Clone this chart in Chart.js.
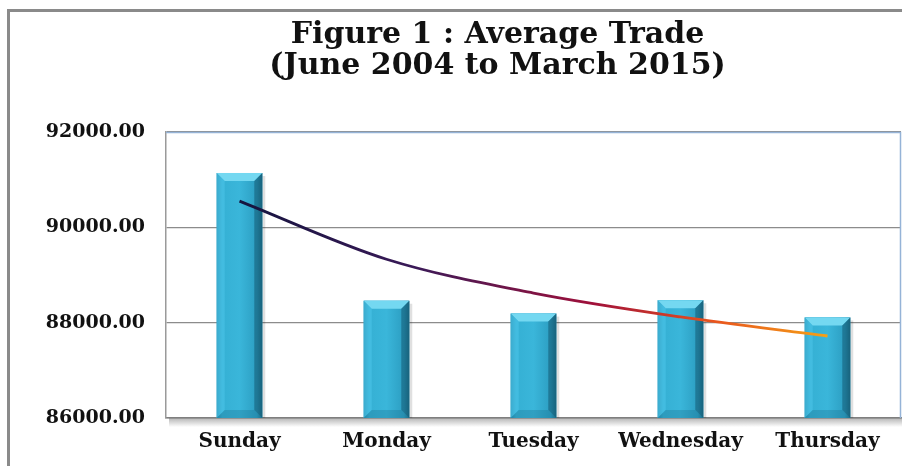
<!DOCTYPE html>
<html>
<head>
<meta charset="utf-8">
<script src="https://cdn.jsdelivr.net/npm/chart.js@4/dist/chart.umd.min.js"></script>
<style>
  html,body{margin:0;padding:0;background:#fff;}
  #wrap{width:902px;height:466px;position:relative;}
</style>
</head>
<body>
<div id="wrap"><canvas id="tradeChart" width="902" height="466"></canvas></div>
<script>
// ----- ДАНІ -----
const days = ['Sunday','Monday','Tuesday','Wednesday','Thursday'];
const avgTrade = [91140, 88460, 88190, 88470, 88110];
// log trend line (at each day)
const trendValues = [90550, 89330, 88620, 88120, 87720];
const titleLines = ['Figure 1 : Average Trade','(June 2004 to March 2015)'];
const yMin = 86000, yMax = 92000, yStep = 2000;

// ----- ПЛАГІНИ -----

// grey frame of the figure + plot area border and shadow
const framePlugin = {
  id:'frame',
  afterLayout(chart){
    // title sits a bit right of the canvas centre
    if(chart.titleBlock) chart.titleBlock.left = 94;
  },
  beforeDraw(chart){
    const c = chart.ctx, a = chart.chartArea;
    c.save();
    c.fillStyle='#fff';
    c.fillRect(0,0,chart.width,chart.height);
    c.strokeStyle='#8a8a8a';
    c.lineWidth=3;
    c.beginPath();
    c.moveTo(8.5,466); c.lineTo(8.5,10.5); c.lineTo(902,10.5);
    c.stroke();
    // shadow under the plot area
    const g = c.createLinearGradient(0,a.bottom,0,a.bottom+9);
    g.addColorStop(0,'rgba(120,120,120,0.55)');
    g.addColorStop(1,'rgba(120,120,120,0)');
    c.fillStyle=g;
    c.fillRect(a.left+3,a.bottom,a.right-a.left,9);
    c.restore();
  },
  afterDraw(chart){
    const c = chart.ctx, a = chart.chartArea;
    c.save();
    c.lineWidth=1.5;
    c.strokeStyle='#95b3d7';
    c.beginPath();
    c.moveTo(a.left,a.top+0.5); c.lineTo(a.right-0.5,a.top+0.5); c.lineTo(a.right-0.5,a.bottom);
    c.stroke();
    c.restore();
  }
};

// cylinder-like bevel on the bars
const bevelPlugin = {
  id:'bevel',
  afterDatasetDraw(chart,args){
    if(args.index!==0) return;
    const c = chart.ctx, a = chart.chartArea;
    args.meta.data.forEach(bar=>{
      const l = bar.x-bar.width/2, r = bar.x+bar.width/2, t = bar.y, b = Math.min(bar.base,a.bottom);
      const w = r-l, bev = 8;
      c.save();
      // shadow on the right
      c.fillStyle='rgba(0,0,0,0.12)';
      c.fillRect(r,t+3,3,b-t-3);
      // body gradient
      const g = c.createLinearGradient(l,0,r,0);
      g.addColorStop(0,'#2790b2');
      g.addColorStop(0.12,'#35b0d4');
      g.addColorStop(0.5,'#3ab6da');
      g.addColorStop(0.88,'#2c9ec2');
      g.addColorStop(1,'#1d6f8a');
      c.fillStyle=g;
      c.fillRect(l,t,w,b-t);
      // top bevel
      c.fillStyle='#74d8f1';
      c.beginPath();
      c.moveTo(l,t); c.lineTo(r,t); c.lineTo(r-bev,t+bev); c.lineTo(l+bev,t+bev); c.closePath();
      c.fill();
      c.fillStyle='rgba(80,200,235,0.5)';
      c.beginPath();
      c.moveTo(l,t); c.lineTo(l+bev,t+bev); c.lineTo(l+bev,b-bev); c.lineTo(l,b); c.closePath();
      c.fill();
      c.fillStyle='rgba(20,90,115,0.55)';
      c.beginPath();
      c.moveTo(r,t); c.lineTo(r-bev,t+bev); c.lineTo(r-bev,b-bev); c.lineTo(r,b); c.closePath();
      c.fill();
      c.fillStyle='rgba(25,110,140,0.3)';
      c.beginPath();
      c.moveTo(l,b); c.lineTo(l+bev,b-bev); c.lineTo(r-bev,b-bev); c.lineTo(r,b); c.closePath();
      c.fill();
      c.restore();
    });
  }
};

function trendGradient(ctx){
  const a = ctx.chart.chartArea;
  if(!a) return '#1a1a4a';
  const g = ctx.chart.ctx.createLinearGradient(a.left+70,0,a.right-70,0);
  g.addColorStop(0,'#14143e');
  g.addColorStop(0.3,'#3a1a58');
  g.addColorStop(0.6,'#a0103a');
  g.addColorStop(0.8,'#e8531e');
  g.addColorStop(1,'#f5a316');
  return g;
}

// ----- ГРАФІК -----

const yFont = {family:'"DejaVu Serif", serif', size:19, weight:'bold'};
const xFont = {family:'"DejaVu Serif", serif', size:20, weight:'bold'};

new Chart(document.getElementById('tradeChart'),{
  data:{
    labels:days,
    datasets:[
      {type:'bar',label:'Average Trade',data:avgTrade,backgroundColor:'#36b1d5',
       barPercentage:0.31,categoryPercentage:1,order:2},
      {type:'line',label:'Trend',data:trendValues,borderColor:trendGradient,borderWidth:2.8,
       pointRadius:0,cubicInterpolationMode:'monotone',order:1}
    ]
  },
  options:{
    responsive:false,
    animation:false,
    layout:{padding:{left:0,right:1,top:0,bottom:0}},
    plugins:{
      legend:{display:false},
      tooltip:{enabled:false},
      title:{display:true,text:titleLines,color:'#111',
        font:{family:'"DejaVu Serif", serif',size:30,weight:'bold',lineHeight:1.05},
        padding:{top:19,bottom:50}}
    },
    scales:{
      x:{
        grid:{display:false,drawTicks:false},
        border:{color:'#7f7f7f',width:1.5},
        ticks:{color:'#111',font:xFont,padding:12}
      },
      y:{
        min:yMin,max:yMax,
        afterFit(scale){scale.width=166;},
        grid:{color:'#8c8c8c',lineWidth:1.2,drawTicks:false},
        border:{color:'#9a9a9a',width:1.5},
        ticks:{stepSize:yStep,color:'#111',font:yFont,padding:21,
          callback:v=>v.toFixed(2)}
      }
    }
  },
  plugins:[framePlugin,bevelPlugin]
});
</script>
</body>
</html>
